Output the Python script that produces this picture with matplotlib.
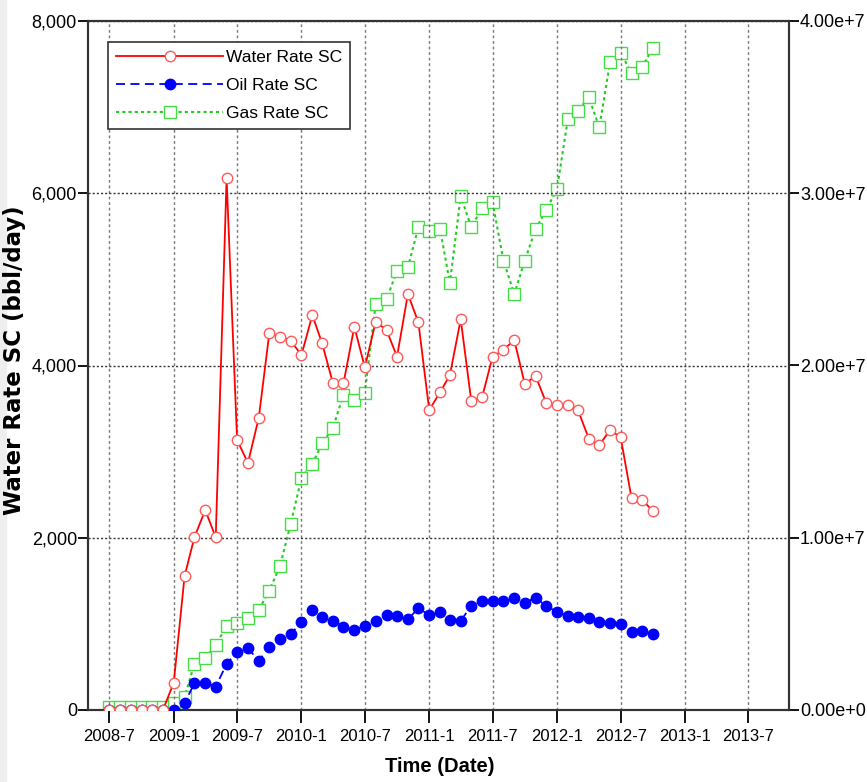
import datetime as dt
import numpy as np
import matplotlib
matplotlib.use("Agg")
import matplotlib.pyplot as plt
import matplotlib.dates as mdates
from matplotlib.ticker import FuncFormatter, MultipleLocator

# monthly samples, 2008-7 .. 2012-10
months = [dt.datetime(2008 + (6 + i) // 12, (6 + i) % 12 + 1, 1) for i in range(52)]

water_rate = [0, 0, 0, 0, 0, 0, 317, 1556, 2005, 2322, 2005, 6175,
              3135, 2868, 3394, 4373, 4334, 4288, 4122, 4586, 4257, 3793,
              3793, 4450, 3979, 4508, 4412, 4102, 4830, 4501, 3483, 3689,
              3889, 4535, 3591, 3630, 4102, 4180, 4296, 3785, 3878, 3569,
              3541, 3541, 3483, 3150, 3077, 3251, 3166, 2461, 2438, 2310]

oil_rate = [0, 0, 0, 0, 0, 0, 0, 80, 310, 317, 271, 534,
            677, 716, 572, 735, 821, 879, 1025, 1161, 1076, 1037,
            967, 929, 975, 1037, 1100, 1093, 1053, 1181, 1103, 1141,
            1045, 1037, 1207, 1269, 1265, 1269, 1304, 1246, 1304, 1207,
            1141, 1091, 1076, 1064, 1025, 1006, 998, 909, 917, 882]

# gas rate in millions (right axis)
gas_rate_mm = [0.2, 0.2, 0.2, 0.2, 0.2, 0.2, 0.39, 0.77, 2.67, 3.0, 3.77, 4.88,
               5.03, 5.32, 5.81, 6.93, 8.38, 10.8, 13.47, 14.28, 15.48, 16.39,
               18.31, 18.0, 18.42, 23.57, 23.84, 25.5, 25.7, 28.02, 27.83, 27.93,
               24.77, 29.84, 28.02, 29.16, 29.48, 26.09, 24.15, 26.09, 27.91, 29.03,
               30.23, 34.3, 34.8, 35.57, 33.83, 37.64, 38.16, 36.97, 37.35, 38.45]
gas_rate = np.array(gas_rate_mm) * 1e6

arial = ["Liberation Sans", "DejaVu Sans"]

fig = plt.figure(figsize=(8.67, 7.82), dpi=100)
fig.patches.append(plt.Rectangle((0, 0), 6 / 867, 1, transform=fig.transFigure,
                                 color="#eeeeee", zorder=0))
ax = fig.add_axes([88 / 867, 72 / 782, 701 / 867, 689 / 782])
ax2 = ax.twinx()

ax.plot(months, water_rate, color="red", lw=1.3, marker="o", ms=7.5,
        mfc="white", mec="#ff5a5a", mew=1, label="Water Rate SC", zorder=4)
ax.plot(months, oil_rate, color="blue", lw=1.3, ls=(0, (5, 3)), marker="o",
        ms=7.5, mfc="blue", mec="blue", label="Oil Rate SC", zorder=3)
ax2.plot(months, gas_rate, color="#22cc22", lw=1.5, ls=(0, (1.5, 1.5)),
         marker="s", ms=8, mfc="white", mec="#44dd44", mew=1, zorder=2)
# proxy for legend
ax.plot([], [], color="#22cc22", lw=1.5, ls=(0, (1.5, 1.5)), marker="s",
        ms=8, mfc="white", mec="#44dd44", label="Gas Rate SC")

ax.set_zorder(ax2.get_zorder() + 1)
ax.patch.set_visible(False)

ax.set_xlim(dt.datetime(2008, 5, 1), dt.datetime(2013, 10, 25))
ax.set_ylim(0, 8000)
ax2.set_ylim(0, 4e7)

ax.xaxis.set_major_locator(mdates.MonthLocator(bymonth=[1, 7]))
ax.xaxis.set_major_formatter(FuncFormatter(
    lambda v, p: "{}-{}".format(mdates.num2date(v).year, mdates.num2date(v).month)))
ax.yaxis.set_major_locator(MultipleLocator(2000))
ax.yaxis.set_major_formatter(FuncFormatter(lambda v, p: "{:,.0f}".format(v)))
ax2.yaxis.set_major_locator(MultipleLocator(1e7))


def sci(v, p):
    if v <= 0:
        return "0.00e+0"
    e = int(np.floor(np.log10(v)))
    return "{:.2f}e+{}".format(v / 10 ** e, e)


ax2.yaxis.set_major_formatter(FuncFormatter(sci))

ax.grid(axis="x", color="#777777", ls=(0, (2, 2)), lw=1)
ax.grid(axis="y", color="#333333", ls=(0, (1.5, 1.5)), lw=1)

for a in (ax, ax2):
    for s in a.spines.values():
        s.set_color("#333333")
        s.set_linewidth(1.5)

ax.tick_params(axis="x", direction="out", length=9, width=1.3, pad=5)
ax.tick_params(axis="y", direction="out", length=7, width=1.3, pad=1)
ax2.tick_params(axis="y", direction="out", length=7, width=1.3, pad=1)
for lab in ax.get_xticklabels():
    lab.set_family(arial)
    lab.set_fontsize(12)
for lab in ax.get_yticklabels():
    lab.set_family(arial)
    lab.set_fontsize(13)
for lab in ax2.get_yticklabels():
    lab.set_family(arial)
    lab.set_fontsize(13)

ax.set_ylabel("Water Rate SC (bbl/day)", fontsize=16.5, fontweight="bold",
              family=["DejaVu Sans"])
ax.yaxis.set_label_coords(-0.088, 0.508)
ax.set_xlabel("Time (Date)", fontsize=14.5, fontweight="bold", family=arial)
ax.xaxis.set_label_coords(0.502, -0.068)

leg = ax.legend(loc="upper left", bbox_to_anchor=(0.0285, 0.9695),
                borderaxespad=0, fancybox=False, framealpha=1,
                edgecolor="#333333", handlelength=6.2, handletextpad=0.15,
                borderpad=0.45, labelspacing=0.75,
                prop={"family": arial, "size": 12.5})
leg.get_frame().set_linewidth(1.2)

plt.savefig("out.png", dpi=100)
